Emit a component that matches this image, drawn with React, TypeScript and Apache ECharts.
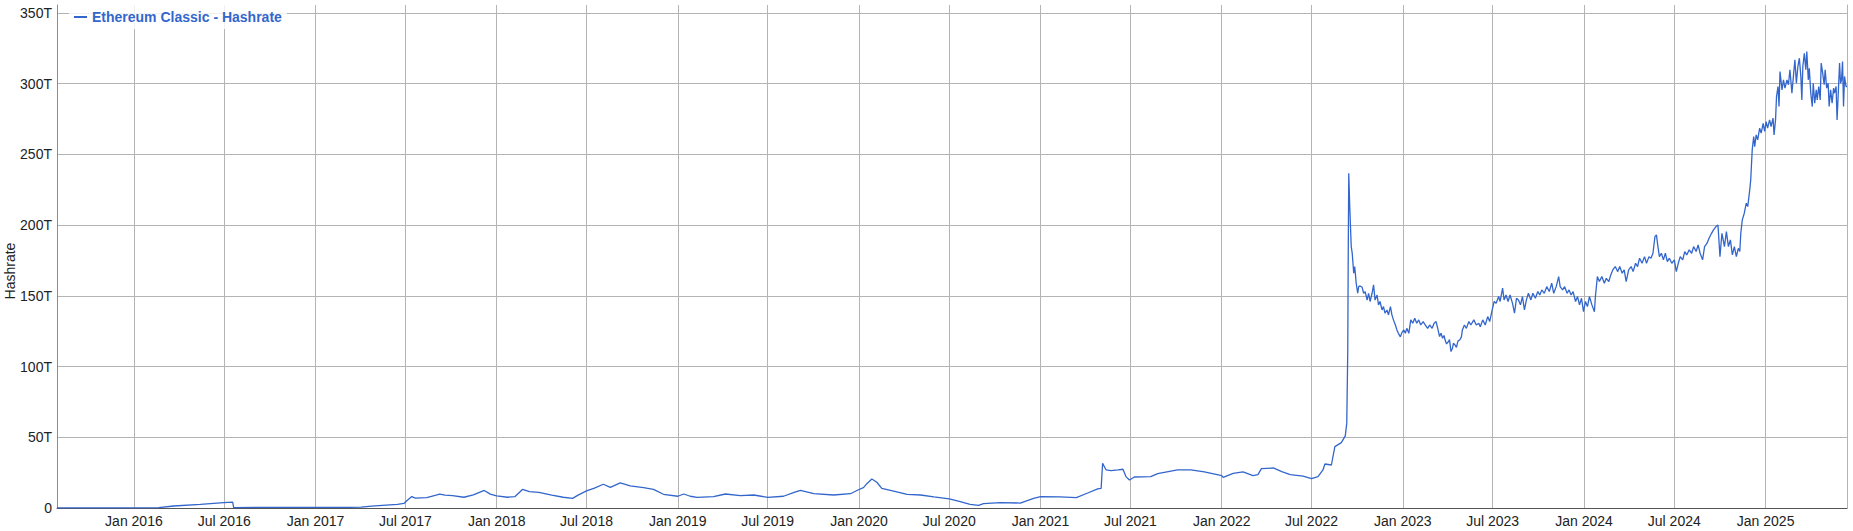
import React, { useEffect, useRef } from 'react';
import * as echarts from 'echarts';

// ---- Data: [date, hashrate in TH/s] ----
const points2015_2016: [string, number][] = [
  ['2015-07-30', 0.05], ['2015-10-01', 0.1], ['2016-01-01', 0.15], ['2016-02-20', 0.3], ['2016-03-21', 1.4],
  ['2016-05-14', 2.6], ['2016-06-30', 3.8], ['2016-07-18', 4.2], ['2016-07-20', 0.3], ['2016-09-01', 0.5],
  ['2016-11-15', 0.4],
];

const points2017_2018: [string, number][] = [
  ['2017-01-15', 0.5], ['2017-03-10', 0.5], ['2017-04-03', 0.6], ['2017-04-24', 1.3], ['2017-05-23', 2.0],
  ['2017-06-15', 2.5], ['2017-06-28', 3.2], ['2017-07-05', 5.5], ['2017-07-14', 8.1], ['2017-07-21', 7.0],
  ['2017-08-13', 7.3], ['2017-09-01', 9.1], ['2017-09-08', 9.8], ['2017-09-19', 9.1], ['2017-10-04', 8.8],
  ['2017-10-27', 7.6], ['2017-11-15', 9.3], ['2017-12-07', 12.4], ['2017-12-19', 9.8], ['2018-01-01', 8.6],
  ['2018-01-23', 7.6], ['2018-02-07', 8.1], ['2018-02-22', 13.1], ['2018-03-08', 11.6], ['2018-03-27', 11.0],
  ['2018-04-22', 9.1], ['2018-05-15', 7.6], ['2018-06-03', 6.8], ['2018-06-14', 9.1], ['2018-07-01', 12.1],
  ['2018-07-17', 14.1], ['2018-08-04', 16.8], ['2018-08-18', 14.6], ['2018-09-07', 17.7], ['2018-09-27', 15.6],
  ['2018-10-24', 14.4], ['2018-11-13', 13.2], ['2018-12-03', 9.7],
];

const points2019_2021: [string, number][] = [
  ['2019-01-01', 8.3], ['2019-01-13', 9.9], ['2019-01-26', 8.3], ['2019-02-09', 7.5], ['2019-03-14', 8.0],
  ['2019-04-07', 9.9], ['2019-05-07', 8.7], ['2019-06-03', 9.2], ['2019-07-01', 7.5], ['2019-08-02', 8.3],
  ['2019-08-22', 10.8], ['2019-09-05', 12.5], ['2019-10-02', 10.1], ['2019-11-11', 9.2], ['2019-12-15', 10.1],
  ['2019-12-31', 12.9], ['2020-01-10', 14.4], ['2020-01-17', 17.2], ['2020-01-27', 20.5], ['2020-02-06', 18.2],
  ['2020-02-16', 13.9], ['2020-03-11', 12.0], ['2020-04-07', 9.7], ['2020-05-04', 9.2], ['2020-05-31', 7.8],
  ['2020-07-01', 6.4], ['2020-07-23', 4.5], ['2020-08-12', 2.6], ['2020-08-29', 1.9], ['2020-09-08', 3.1],
  ['2020-10-12', 3.8], ['2020-11-21', 3.5], ['2020-12-18', 6.8], ['2021-01-01', 8.0], ['2021-02-09', 7.8],
  ['2021-03-14', 7.3], ['2021-04-06', 10.6], ['2021-04-26', 13.5], ['2021-05-03', 13.9], ['2021-05-06', 31.6],
  ['2021-05-13', 26.9], ['2021-05-23', 26.4], ['2021-06-06', 26.9], ['2021-06-16', 27.4], ['2021-06-22', 22.2],
  ['2021-06-29', 19.8], ['2021-07-09', 21.9], ['2021-08-11', 22.2], ['2021-08-25', 24.3], ['2021-10-04', 26.9],
  ['2021-10-31', 26.9], ['2021-11-27', 25.5],
];

const points2022: [string, number][] = [
  ['2022-01-01', 22.9], ['2022-01-04', 21.7], ['2022-01-24', 24.5], ['2022-02-13', 25.5], ['2022-03-05', 22.9],
  ['2022-03-15', 23.6], ['2022-03-22', 27.8], ['2022-04-15', 28.3], ['2022-05-02', 25.7], ['2022-05-19', 23.6],
  ['2022-06-14', 22.6], ['2022-07-01', 20.8], ['2022-07-14', 22.2], ['2022-07-24', 26.9], ['2022-07-28', 31.1],
  ['2022-08-10', 30.4], ['2022-08-17', 43.4], ['2022-08-30', 46.2], ['2022-09-07', 51.0], ['2022-09-10', 60],
  ['2022-09-12', 112], ['2022-09-13', 182], ['2022-09-14', 236.7], ['2022-09-16', 213], ['2022-09-19', 184.8],
  ['2022-09-21', 180], ['2022-09-24', 166], ['2022-09-26', 170.7], ['2022-09-29', 158.9], ['2022-10-02', 151.8],
  ['2022-10-04', 156.5], ['2022-10-07', 157], ['2022-10-11', 156], ['2022-10-14', 151.8], ['2022-10-17', 153],
  ['2022-10-21', 147], ['2022-10-24', 151.8], ['2022-10-27', 146], ['2022-10-31', 151.8], ['2022-11-03', 157.7],
  ['2022-11-06', 147], ['2022-11-10', 150.6], ['2022-11-13', 143.6], ['2022-11-16', 146], ['2022-11-20', 140],
  ['2022-11-23', 142.4], ['2022-11-26', 137.7], ['2022-11-30', 140], ['2022-12-03', 136.5], ['2022-12-07', 142.4],
  ['2022-12-10', 136.5], ['2022-12-13', 133], ['2022-12-17', 129.4], ['2022-12-20', 125.9], ['2022-12-23', 123.5],
  ['2022-12-27', 121], ['2022-12-30', 124],
];

const points2023: [string, number][] = [
  ['2023-01-03', 125.9], ['2023-01-06', 123.5], ['2023-01-09', 127], ['2023-01-13', 123.5], ['2023-01-17', 133],
  ['2023-01-21', 130.6], ['2023-01-25', 134.1], ['2023-01-29', 130.6], ['2023-02-02', 133], ['2023-02-06', 129.4],
  ['2023-02-11', 131.8], ['2023-02-15', 129.4], ['2023-02-20', 127], ['2023-02-24', 129.4], ['2023-03-01', 127],
  ['2023-03-05', 130.6], ['2023-03-09', 131.8], ['2023-03-13', 125.9], ['2023-03-16', 121.2], ['2023-03-19', 123.6],
  ['2023-03-22', 120], ['2023-03-25', 122], ['2023-03-27', 118.9], ['2023-03-30', 116], ['2023-04-03', 117.7],
  ['2023-04-05', 119], ['2023-04-08', 110.6], ['2023-04-11', 113], ['2023-04-13', 116.5], ['2023-04-16', 115.3],
  ['2023-04-19', 113.5], ['2023-04-22', 118], ['2023-04-26', 118.9], ['2023-04-29', 121], ['2023-05-01', 125.9],
  ['2023-05-05', 129.4], ['2023-05-09', 127], ['2023-05-14', 131.8], ['2023-05-18', 129.4], ['2023-05-24', 133],
  ['2023-05-29', 129.4], ['2023-06-03', 130.6], ['2023-06-06', 128.2], ['2023-06-11', 133], ['2023-06-16', 129.4],
  ['2023-06-21', 135.3], ['2023-06-25', 131.8], ['2023-06-30', 140], ['2023-07-04', 146], ['2023-07-08', 144.7],
  ['2023-07-13', 149.5], ['2023-07-16', 146], ['2023-07-21', 155.4], ['2023-07-24', 147.1], ['2023-07-28', 150.6],
  ['2023-08-01', 146], ['2023-08-05', 150.6], ['2023-08-10', 144.7], ['2023-08-14', 137.7], ['2023-08-18', 148.3],
  ['2023-08-22', 147.1], ['2023-08-26', 143.6], ['2023-08-30', 149.5], ['2023-09-03', 140], ['2023-09-07', 147.1],
  ['2023-09-11', 151.8], ['2023-09-16', 147.1], ['2023-09-20', 151.8], ['2023-09-25', 148.3], ['2023-09-30', 153],
  ['2023-10-04', 150.6], ['2023-10-08', 154.2], ['2023-10-13', 151.8], ['2023-10-18', 156.5], ['2023-10-23', 153],
  ['2023-10-28', 158.9], ['2023-11-01', 151.8], ['2023-11-06', 156.5], ['2023-11-11', 163.6], ['2023-11-14', 156.5],
  ['2023-11-19', 154.2], ['2023-11-23', 156.5], ['2023-11-28', 151.8], ['2023-12-02', 154.2], ['2023-12-06', 150.6],
  ['2023-12-10', 153], ['2023-12-15', 146], ['2023-12-19', 149.5], ['2023-12-23', 143.6], ['2023-12-27', 148.3],
  ['2023-12-31', 138.8],
];

const points2024: [string, number][] = [
  ['2024-01-04', 146], ['2024-01-08', 142.4], ['2024-01-12', 149.5], ['2024-01-17', 143.6], ['2024-01-22', 138.8],
  ['2024-01-24', 149.5], ['2024-01-28', 163.6], ['2024-02-01', 160.1], ['2024-02-06', 163.6], ['2024-02-11', 158.9],
  ['2024-02-15', 162.4], ['2024-02-20', 160.1], ['2024-02-24', 164.8], ['2024-02-28', 168.3], ['2024-03-04', 170.7],
  ['2024-03-09', 167.1], ['2024-03-13', 170.7], ['2024-03-18', 166], ['2024-03-22', 168.3], ['2024-03-26', 160.1],
  ['2024-03-31', 168.3], ['2024-04-05', 170.7], ['2024-04-09', 167.1], ['2024-04-14', 173], ['2024-04-18', 170.7],
  ['2024-04-22', 176.6], ['2024-04-27', 173], ['2024-05-02', 177.7], ['2024-05-06', 173], ['2024-05-11', 177.7],
  ['2024-05-15', 176.6], ['2024-05-19', 180.1], ['2024-05-23', 191.9], ['2024-05-26', 193.1], ['2024-05-29', 184.8],
  ['2024-06-01', 177.7], ['2024-06-05', 180.1], ['2024-06-09', 175.4], ['2024-06-13', 180.1], ['2024-06-17', 174.2],
  ['2024-06-21', 176.6], ['2024-06-26', 173], ['2024-07-01', 175.4], ['2024-07-05', 167.1], ['2024-07-09', 173],
  ['2024-07-13', 177.7], ['2024-07-18', 175.4], ['2024-07-22', 181.3], ['2024-07-26', 178.9], ['2024-07-31', 182.5],
  ['2024-08-05', 180.1], ['2024-08-09', 184.8], ['2024-08-14', 181.3], ['2024-08-18', 186], ['2024-08-22', 180.1],
  ['2024-08-27', 175.4], ['2024-08-31', 184.8], ['2024-09-05', 187.2], ['2024-09-09', 190.7], ['2024-09-14', 194.2],
  ['2024-09-18', 196.6], ['2024-09-23', 199], ['2024-09-27', 200.1], ['2024-10-01', 177.7], ['2024-10-05', 194.2],
  ['2024-10-10', 184.8], ['2024-10-14', 195.4], ['2024-10-18', 184.8], ['2024-10-22', 189.5], ['2024-10-26', 178.9],
  ['2024-10-30', 184.8], ['2024-11-03', 177.7], ['2024-11-07', 183.6], ['2024-11-10', 181.3], ['2024-11-12', 194.2],
  ['2024-11-15', 203.7], ['2024-11-19', 208.4], ['2024-11-23', 215.5], ['2024-11-26', 213.1], ['2024-11-30', 224.9],
  ['2024-12-02', 232], ['2024-12-05', 253.2], ['2024-12-08', 262.6], ['2024-12-10', 255.5], ['2024-12-13', 263.8],
  ['2024-12-16', 260.3], ['2024-12-20', 268.5], ['2024-12-23', 265], ['2024-12-27', 272], ['2024-12-30', 266.2],
];

const points2025: [string, number][] = [
  ['2025-01-02', 273.2], ['2025-01-05', 268.5], ['2025-01-09', 274.4], ['2025-01-12', 269.7], ['2025-01-16', 275.6],
  ['2025-01-18', 263.8], ['2025-01-21', 274.4], ['2025-01-23', 290.9], ['2025-01-26', 298], ['2025-01-28', 283.8],
  ['2025-01-30', 308.6], ['2025-02-03', 295.6], ['2025-02-06', 302.7], ['2025-02-09', 296.8], ['2025-02-13', 302.7],
  ['2025-02-16', 299.2], ['2025-02-19', 309.8], ['2025-02-23', 293.3], ['2025-02-26', 305.1], ['2025-03-01', 316.8],
  ['2025-03-04', 300.3], ['2025-03-07', 312.1], ['2025-03-10', 318], ['2025-03-13', 305.1], ['2025-03-15', 288.5],
  ['2025-03-17', 312.1], ['2025-03-20', 321.5], ['2025-03-23', 309.8], ['2025-03-25', 322.7], ['2025-03-28', 302.7],
  ['2025-03-30', 310.9], ['2025-04-02', 293.3], ['2025-04-05', 283.8], ['2025-04-07', 300.3], ['2025-04-10', 286.2],
  ['2025-04-13', 295.6], ['2025-04-15', 288.5], ['2025-04-18', 298], ['2025-04-21', 288.5], ['2025-04-23', 314.5],
  ['2025-04-26', 307.4], ['2025-04-29', 299.2], ['2025-05-01', 309.8], ['2025-05-04', 296.8], ['2025-05-07', 300.3],
  ['2025-05-09', 283.8], ['2025-05-12', 295.6], ['2025-05-15', 286.2], ['2025-05-18', 296.8], ['2025-05-20', 293.3],
  ['2025-05-23', 298], ['2025-05-25', 274.4], ['2025-05-28', 298], ['2025-05-30', 314.5], ['2025-06-01', 300.3],
  ['2025-06-03', 302.7], ['2025-06-05', 315.7], ['2025-06-07', 283.8], ['2025-06-09', 305.1], ['2025-06-12', 298],
  ['2025-06-14', 298],
];

const seriesName = 'Ethereum Classic - Hashrate';
const yAxisTitle = 'Hashrate';
const xMin = '2015-07-30';
const xMax = '2025-06-14';
const yTicks = [0, 50, 100, 150, 200, 250, 300, 350];
const monthNames = ['Jan', 'Feb', 'Mar', 'Apr', 'May', 'Jun', 'Jul', 'Aug', 'Sep', 'Oct', 'Nov', 'Dec'];

const FONT = "Arial, 'Liberation Sans', sans-serif";

export default function App() {
  const ref = useRef<HTMLDivElement>(null);

  useEffect(() => {
    document.body.style.margin = '0';
    if (!ref.current) return;
    const chart = echarts.init(ref.current, undefined, { renderer: 'svg' });

    const data = [
      ...points2015_2016,
      ...points2017_2018,
      ...points2019_2021,
      ...points2022,
      ...points2023,
      ...points2024,
      ...points2025,
    ];

    const HALF_YEAR = 182.5 * 24 * 3600 * 1000;
    const yMax = 355.6;

    chart.setOption({
      animation: false,
      textStyle: { fontFamily: FONT },
      grid: { left: 57, right: 6, top: 5, bottom: 23, containLabel: false },
      legend: {
        data: [seriesName],
        left: 69,
        top: 5,
        icon: 'rect',
        itemWidth: 13,
        itemHeight: 2,
        itemGap: 5,
        padding: [5, 5, 5, 5],
        backgroundColor: 'rgba(255,255,255,0.8)',
        textStyle: { fontFamily: FONT, fontSize: 14, fontWeight: 'bold', color: '#3366cc' },
      },
      xAxis: {
        type: 'time',
        min: xMin,
        max: xMax,
        minInterval: HALF_YEAR,
        maxInterval: HALF_YEAR,
        axisLine: { show: true, lineStyle: { color: '#555', width: 1 } },
        axisTick: { show: false },
        axisLabel: {
          showMinLabel: false,
          showMaxLabel: false,
          margin: 6,
          fontFamily: FONT,
          fontSize: 14,
          color: '#222',
          hideOverlap: false,
          formatter: (value: number) => {
            const d = new Date(value);
            return monthNames[d.getMonth()] + ' ' + d.getFullYear();
          },
        },
        splitLine: { show: true, lineStyle: { color: '#b4b4b4', width: 1 } },
      },
      yAxis: [
        {
          type: 'value',
          min: yTicks[0],
          max: yMax,
          interval: 50,
          axisLine: { show: true, lineStyle: { color: '#8c8c8c' } },
          axisTick: { show: false },
          axisLabel: {
            showMaxLabel: false,
            margin: 5,
            fontFamily: FONT,
            fontSize: 14,
            color: '#222',
            formatter: (v: number) => (yTicks.includes(v) ? (v === 0 ? '0' : v + 'T') : ''),
          },
          splitLine: { show: true, showMaxLine: false, lineStyle: { color: '#b4b4b4', width: 1 } },
        },
        {
          type: 'value',
          position: 'right',
          min: yTicks[0],
          max: yMax,
          interval: 50,
          axisLine: { show: true, lineStyle: { color: '#b4b4b4' } },
          axisTick: { show: false },
          axisLabel: { show: false },
          splitLine: { show: false },
        },
      ],
      graphic: [
        {
          type: 'text',
          x: 10,
          y: 271,
          rotation: Math.PI / 2,
          style: {
            text: yAxisTitle,
            font: `14px ${FONT}`,
            fill: '#222',
            align: 'center',
            verticalAlign: 'middle',
          },
        },
      ],
      series: [
        {
          name: seriesName,
          type: 'line',
          data,
          showSymbol: false,
          symbol: 'none',
          lineStyle: { color: '#3366cc', width: 1.3 },
          itemStyle: { color: '#3366cc' },
          yAxisIndex: 0,
        },
      ],
    });

    return () => {
      chart.dispose();
    };
  }, []);

  return <div ref={ref} style={{ width: 1853, height: 531 }} />;
}
